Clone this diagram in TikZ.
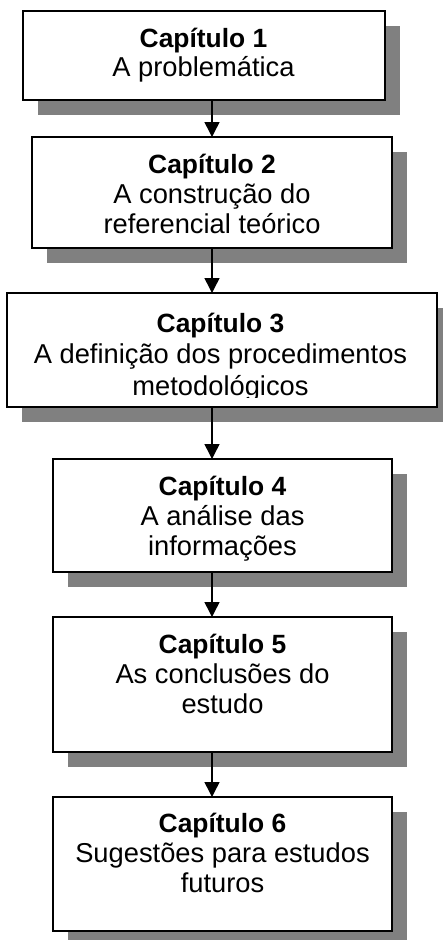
\documentclass[tikz,border=0pt]{standalone}
\usepackage{fontspec}
\setmainfont{Liberation Sans}
\usetikzlibrary{arrows.meta,shadows}
\definecolor{shadowgray}{RGB}{128,128,128}
\begin{document}
\begin{tikzpicture}[x=1pt,y=-1pt,
  box/.style={draw=black, line width=1.5pt, fill=white, outer sep=0pt, inner sep=0pt,
    anchor=north west,
    drop shadow={shadow xshift=15pt, shadow yshift=-15pt, fill=shadowgray, opacity=1}},
  title/.style={font=\fontsize{26.4}{30}\selectfont\bfseries, anchor=base, inner sep=0pt},
  txt/.style={font=\fontsize{27.3}{30}\selectfont, anchor=base, inner sep=0pt},
  arr/.style={line width=1.5pt, -{Triangle[width=15pt,length=15pt]}}]
\useasboundingbox (0,0) rectangle (443,940);
\clip (0,0) rectangle (443,940);

% boxes
\node[box, minimum width=362pt, minimum height=89pt]  (b1) at (23,11)  {};
\node[box, minimum width=360pt, minimum height=111pt] (b2) at (32,137) {};
\node[box, minimum width=430pt, minimum height=114pt] (b3) at (7,293)  {};
\node[box, minimum width=339pt, minimum height=113pt] (b4) at (53,459) {};
\node[box, minimum width=339pt, minimum height=135pt] (b5) at (53,617) {};
\node[box, minimum width=339pt, minimum height=134pt] (b6) at (53,797) {};

% arrows
\coordinate (ax) at (212,0);
\draw[arr] (b1.south -| ax) -- (b2.north -| ax);
\draw[arr] (b2.south -| ax) -- (b3.north -| ax);
\draw[arr] (b3.south -| ax) -- (b4.north -| ax);
\draw[arr] (b4.south -| ax) -- (b5.north -| ax);
\draw[arr] (b5.south -| ax) -- (b6.north -| ax);

% texts
\node[title] (t1a) at (203.5,47) {Capítulo 1};
\node[txt]   (t1b) at (203.5,76) {A problemática};

\node[title] (t2a) at (212,173) {Capítulo 2};
\node[txt]   (t2b) at (212,203) {A construção do};
\node[txt]   (t2c) at (212,233) {referencial teórico};

\node[title] (t3a) at (220.5,332) {Capítulo 3};
\node[txt]   (t3b) at (220.5,363.5) {A definição dos procedimentos};
\begin{scope}
\clip (0,0) rectangle (443,397);
\node[txt]   (t3c) at (220.5,395) {metodológicos};
\end{scope}

\node[title] (t4a) at (222.5,495) {Capítulo 4};
\node[txt]   (t4b) at (222.5,525) {A análise das};
\node[txt]   (t4c) at (222.5,555) {informações};

\node[title] (t5a) at (222.5,653) {Capítulo 5};
\node[txt]   (t5b) at (222.5,683) {As conclusões do};
\node[txt]   (t5c) at (222.5,713) {estudo};

\node[title] (t6a) at (222.5,832) {Capítulo 6};
\node[txt]   (t6b) at (222.5,862) {Sugestões para estudos};
\node[txt]   (t6c) at (222.5,892) {futuros};
\end{tikzpicture}
\end{document}
